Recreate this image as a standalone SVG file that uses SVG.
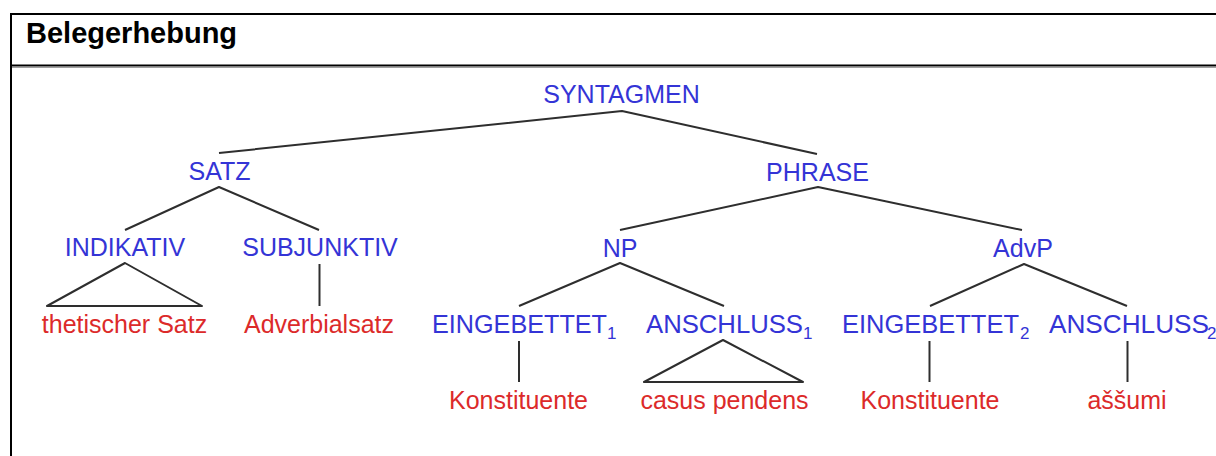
<svg xmlns="http://www.w3.org/2000/svg" width="1216" height="456" viewBox="0 0 1216 456">
  <style>
    .frame { stroke: #000; stroke-width: 2; fill: none; }
    .title { font-family: "Liberation Sans", Arial, sans-serif; font-weight: bold; font-size: 29px; fill: #000; }
    .cat { font-family: "Liberation Sans", Arial, sans-serif; font-size: 25px; fill: #3434d6; }
    .leaf { font-family: "Liberation Sans", Arial, sans-serif; font-size: 25px; fill: #dc2a2a; }
    .sub { font-family: "Liberation Sans", Arial, sans-serif; font-size: 17px; fill: #3434d6; }
    .mid { text-anchor: middle; }
    .edge { stroke: #2e2e2e; stroke-width: 2; fill: none; stroke-linejoin: round; }
  </style>

  <!-- table frame with header row -->
  <g id="frame">
    <rect x="0" y="0" width="1216" height="456" fill="#fff"/>
    <line class="frame" x1="10" y1="14" x2="1216" y2="14"/>
    <line class="frame" x1="11" y1="13" x2="11" y2="456"/>
    <line class="frame" x1="10" y1="65.5" x2="1216" y2="65.5"/>
    <line x1="12" y1="67.3" x2="1216" y2="67.3" stroke="#888" stroke-width="1"/>
    <text class="title" x="26" y="43">Belegerhebung</text>
  </g>

  <!-- tree edges -->
  <g id="connectors">
    <polyline class="edge" points="219,153 622,111 817,154"/>
    <polyline class="edge" points="125,230 219,187 319,230"/>
    <polyline class="edge" points="620,230 818,187 1022,230"/>
    <polygon class="edge" points="125,263 47,306 202,306"/>
    <line class="edge" x1="319.5" y1="264" x2="319.5" y2="306"/>
    <polyline class="edge" points="519,306 620,263 724,306"/>
    <line class="edge" x1="519" y1="341" x2="519" y2="382"/>
    <polygon class="edge" points="723,340 644,382 803,382"/>
    <polyline class="edge" points="930,306 1024,264 1127,306"/>
    <line class="edge" x1="929.5" y1="341" x2="929.5" y2="382"/>
    <line class="edge" x1="1127.5" y1="341" x2="1127.5" y2="382"/>
  </g>

  <g id="syntagmen"><text class="cat mid" x="621.5" y="103">SYNTAGMEN</text></g>
  <g id="satz"><text class="cat mid" x="219.5" y="180">SATZ</text></g>
  <g id="phrase"><text class="cat mid" x="817.5" y="181">PHRASE</text></g>
  <g id="indikativ"><text class="cat mid" x="125" y="256">INDIKATIV</text></g>
  <g id="subjunktiv"><text class="cat mid" x="320" y="256">SUBJUNKTIV</text></g>
  <g id="np"><text class="cat mid" x="620" y="257">NP</text></g>
  <g id="advp"><text class="cat mid" x="1023" y="257">AdvP</text></g>

  <g id="thetischer-satz"><text class="leaf mid" x="124.5" y="333">thetischer Satz</text></g>
  <g id="adverbialsatz"><text class="leaf mid" x="319" y="333">Adverbialsatz</text></g>

  <g id="eingebettet1">
    <text class="cat" x="432" y="333" textLength="175" lengthAdjust="spacingAndGlyphs">EINGEBETTET</text>
    <text class="sub" x="607" y="339">1</text>
  </g>
  <g id="anschluss1">
    <text class="cat" x="646" y="333" textLength="157" lengthAdjust="spacingAndGlyphs">ANSCHLUSS</text>
    <text class="sub" x="803" y="339">1</text>
  </g>
  <g id="eingebettet2">
    <text class="cat" x="842" y="333" textLength="177" lengthAdjust="spacingAndGlyphs">EINGEBETTET</text>
    <text class="sub" x="1020" y="339">2</text>
  </g>
  <g id="anschluss2">
    <text class="cat" x="1049" y="333" textLength="160" lengthAdjust="spacingAndGlyphs">ANSCHLUSS</text>
    <text class="sub" x="1207" y="339">2</text>
  </g>

  <g id="konstituente1"><text class="leaf mid" x="518.5" y="409">Konstituente</text></g>
  <g id="casus-pendens"><text class="leaf mid" x="724.5" y="409">casus pendens</text></g>
  <g id="konstituente2"><text class="leaf mid" x="930" y="409">Konstituente</text></g>
  <g id="assumi"><text class="leaf mid" x="1127" y="409">aššumi</text></g>
</svg>
